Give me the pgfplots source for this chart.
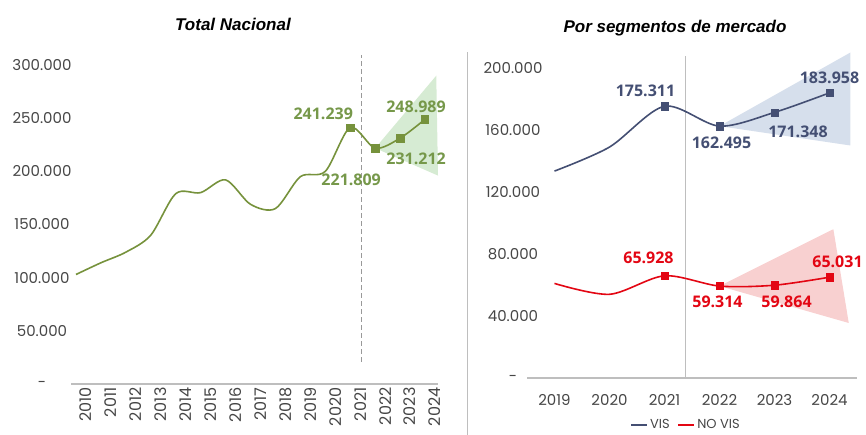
\documentclass[border=0pt]{standalone}
\usepackage{pgfplots}
\pgfplotsset{compat=1.18}
\usepackage{fontspec}
\setmainfont{Poppins}
\newfontfamily\lblfont{Open Sans}
\newfontfamily\ttlfont{Liberation Sans}
\definecolor{gline}{RGB}{118,146,60}
\definecolor{glbl}{RGB}{118,152,74}
\definecolor{gcone}{RGB}{214,235,211}
\definecolor{vis}{RGB}{68,79,115}
\definecolor{viscone}{RGB}{214,223,236}
\definecolor{novis}{RGB}{227,6,19}
\definecolor{noviscone}{RGB}{248,208,208}
\definecolor{tick}{RGB}{70,70,70}
\definecolor{axl}{RGB}{190,190,190}
\tikzset{dlbl/.style={font=\lblfont\bfseries\fontsize{16}{19}\selectfont}}
\begin{document}
\begin{tikzpicture}[x=1pt,y=1pt]
\useasboundingbox (0,0) rectangle (866,435);
\pgfplotsset{
  myax/.style={
    anchor=south west, scale only axis,
    axis x line*=bottom, axis y line*=left,
    y axis line style={draw=none},
    x axis line style={draw=axl, line width=1.2pt, -},
    major tick length=0pt,
    xtick style={draw=none}, ytick style={draw=none},
    scaled y ticks=false, scaled x ticks=false,
    tick label style={font=\fontsize{15}{18}\selectfont, text=tick},
    clip=false,
  },
}
% ---------- Left: Total Nacional ----------
\begin{axis}[myax,
  at={(71pt,51pt)}, width=366.5pt, height=329.6pt,
  xmin=2009.8, xmax=2024.5, ymin=0, ymax=310000,
  xtick={2010,2011,2012,2013,2014,2015,2016,2017,2018,2019,2020,2021,2022,2023,2024},
  xticklabels={2010,2011,2012,2013,2014,2015,2016,2017,2018,2019,2020,2021,2022,2023,2024},
  xticklabel style={rotate=90, anchor=east, yshift=-10pt, font=\fontsize{16}{18}\selectfont},
  ytick={0,50000,100000,150000,200000,250000,300000},
  yticklabels={-,50.000,100.000,150.000,200.000,250.000,300.000},
  yticklabel style={anchor=center, xshift=-29pt},
]
\addplot[fill=gcone, draw=none] coordinates {(2022,221809) (2024.45,290000) (2024.52,196000)} -- cycle;
\draw[dash pattern=on 5pt off 3pt, gray!80, line width=0.8pt] (axis cs:2021.45,20700) -- (axis cs:2021.45,309000);
\addplot[gline, line width=1.6pt, smooth, tension=0.5] coordinates {
(2010,103000) (2011,114000) (2012,124000) (2013,140000) (2014,179000)
(2015,180000) (2016,192000) (2017,169000) (2018,165000) (2019,195000)
(2020,200000) (2021,241239) (2022,221809) (2023,231212) (2024,248989)};
\addplot[only marks, mark=square*, mark size=3.6pt, gline] coordinates {
(2021,241239) (2022,221809) (2023,231212) (2024,248989)};
\node[dlbl, text=glbl, xshift=-27pt, yshift=14pt] at (axis cs:2021,241239) {241.239};
\node[dlbl, text=glbl, xshift=-24pt, yshift=-32pt] at (axis cs:2022,221809) {221.809};
\node[dlbl, text=glbl, xshift=16pt, yshift=-21pt] at (axis cs:2023,231212) {231.212};
\node[dlbl, text=glbl, xshift=-9pt, yshift=12pt] at (axis cs:2024,248989) {248.989};
\end{axis}
% separator
\draw[axl, line width=1pt] (467,0) -- (467,383);
% ---------- Right: Por segmentos ----------
\begin{axis}[myax,
  at={(527pt,57pt)}, width=330pt, height=325.5pt,
  xmin=2018.5, xmax=2024.5, ymin=0, ymax=210000,
  xtick={2019,2020,2021,2022,2023,2024},
  xticklabels={2019,2020,2021,2022,2023,2024},
  xticklabel style={yshift=-13pt},
  ytick={0,40000,80000,120000,160000,200000},
  yticklabels={-,40.000,80.000,120.000,160.000,200.000},
  yticklabel style={anchor=center, xshift=-14pt},
  legend style={at={(0.482,-0.144)}, anchor=center, draw=none, fill=none,
    legend columns=2, font=\fontsize{13}{15}\selectfont, text=tick,
    /tikz/every even column/.append style={column sep=6pt},
    inner sep=0pt},
  legend image code/.code={\draw[#1] (0pt,0pt) -- (16pt,0pt);},
]
\addplot[fill=viscone, draw=none, forget plot] coordinates {(2022,162495) (2024.38,210000) (2024.38,150000)} -- cycle;
\addplot[fill=noviscone, draw=none, forget plot] coordinates {(2022,59314) (2024.07,96000) (2024.35,35500)} -- cycle;
\draw[axl, line width=1.2pt] (axis cs:2021.38,0) -- (axis cs:2021.38,207700);
\addplot[vis, line width=1.6pt, smooth, tension=0.5] coordinates {
(2019,133500) (2020,149000) (2021,175311) (2022,162495) (2023,171348) (2024,183958)};
\addlegendentry{VIS}
\addplot[novis, line width=1.6pt, smooth, tension=0.5] coordinates {
(2019,61000) (2020,54000) (2021,65928) (2022,59314) (2023,59864) (2024,65031)};
\addlegendentry{NO VIS}
\addplot[only marks, mark=square*, mark size=3.6pt, vis, forget plot] coordinates {
(2021,175311) (2022,162495) (2023,171348) (2024,183958)};
\addplot[only marks, mark=square*, mark size=3.6pt, novis, forget plot] coordinates {
(2021,65928) (2022,59314) (2023,59864) (2024,65031)};
\node[dlbl, text=vis, xshift=-19pt, yshift=15pt] at (axis cs:2021,175311) {175.311};
\node[dlbl, text=vis, xshift=2pt, yshift=-17pt] at (axis cs:2022,162495) {162.495};
\node[dlbl, text=vis, xshift=23.5pt, yshift=-19pt] at (axis cs:2023,171348) {171.348};
\node[dlbl, text=vis, xshift=0pt, yshift=15pt] at (axis cs:2024,183958) {183.958};
\node[dlbl, text=novis, xshift=-16pt, yshift=18pt] at (axis cs:2021,65928) {65.928};
\node[dlbl, text=novis, xshift=-2pt, yshift=-16pt] at (axis cs:2022,59314) {59.314};
\node[dlbl, text=novis, xshift=12pt, yshift=-17pt] at (axis cs:2023,59864) {59.864};
\node[dlbl, text=novis, xshift=8pt, yshift=15pt] at (axis cs:2024,65031) {65.031};
\end{axis}
\node[font=\ttlfont\bfseries\itshape\fontsize{17}{20}\selectfont] at (233,411) {Total Nacional};
\node[font=\ttlfont\bfseries\itshape\fontsize{17}{20}\selectfont] at (675,407) {Por segmentos de mercado};
\end{tikzpicture}
\end{document}
